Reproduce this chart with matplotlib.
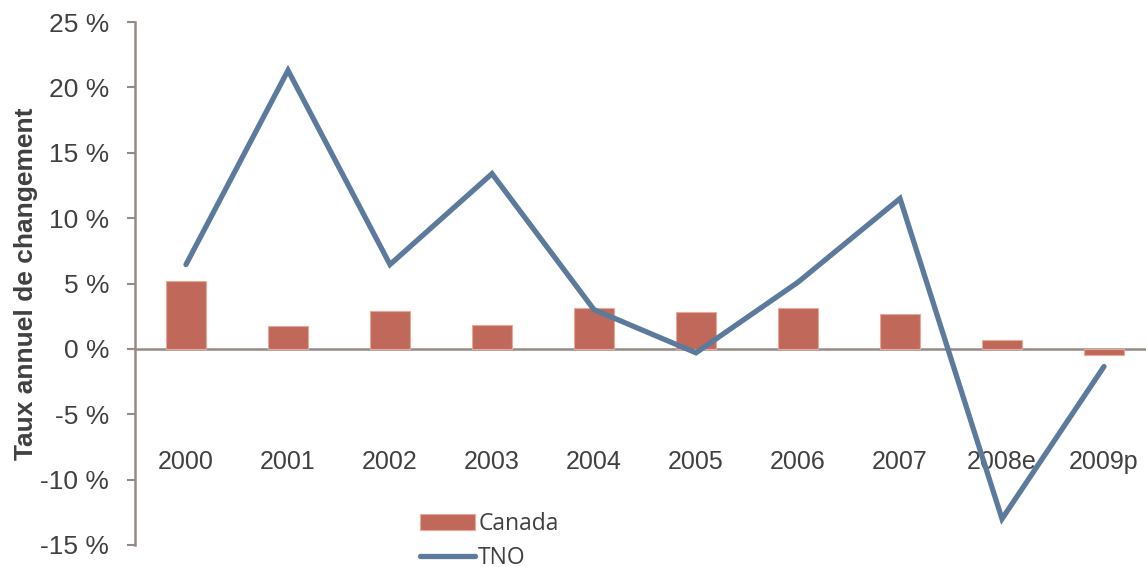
import matplotlib
matplotlib.use("Agg")
import matplotlib.pyplot as plt
import numpy as np

# Taux annuel de changement, en %
years = ["2000", "2001", "2002", "2003", "2004", "2005", "2006", "2007", "2008e", "2009p"]
canada = [5.2, 1.75, 2.9, 1.85, 3.1, 2.85, 3.1, 2.7, 0.7, -0.45]
tno = [6.45, 21.3, 6.45, 13.4, 3.0, -0.3, 5.1, 11.5, -13.0, -1.35]

bar_col = "#C0695A"
line_col = "#5B7A9C"
axis_col = "#968A86"
text_col = "#404040"

plt.rcParams['font.family'] = ['Liberation Sans', 'DejaVu Sans']

fig = plt.figure(figsize=(11.46, 5.67), dpi=100)
ax = fig.add_axes([135/1146, 22/567, 1020/1146, 523/567])

x = np.arange(len(years))
bars = ax.bar(x, canada, width=0.4, color=bar_col, edgecolor="#E8A898", linewidth=0.8, zorder=2)
line, = ax.plot(x, tno, color=line_col, lw=3.8, solid_capstyle='round', solid_joinstyle='miter', zorder=3)

ax.set_xlim(-0.5, 9.5)
ax.set_ylim(-15, 25)
ax.set_yticks(range(-15, 26, 5))
ax.set_yticklabels(["{} %".format(v) for v in range(-15, 26, 5)])

ax.set_xticks(x)
ax.set_xticklabels(years)
ax.spines['bottom'].set_position(('data', 0))
ax.tick_params(axis='x', length=0, pad=73, labelsize=18, colors=text_col)
ax.tick_params(axis='y', length=5.5, width=1.5, color=axis_col, labelsize=19, labelcolor=text_col, pad=13)

for s in ['top', 'right']:
    ax.spines[s].set_visible(False)
for s in ['left', 'bottom']:
    ax.spines[s].set_color(axis_col)
    ax.spines[s].set_linewidth(1.8)
    ax.spines[s].set_zorder(1)

ax.set_ylabel("Taux annuel de changement", fontsize=19, fontweight='bold', color=text_col)
ax.yaxis.set_label_coords(-0.095, 0.5)

leg = ax.legend([bars, line], ["Canada", "TNO"], loc='upper left',
                bbox_to_anchor=(409/1146, 1 - 501/567), bbox_transform=fig.transFigure,
                frameon=False, handlelength=2.4, handletextpad=0.12, labelspacing=0.42,
                borderpad=0, prop={'family': 'Open Sans', 'size': 16.5})
for t in leg.get_texts():
    t.set_color(text_col)

fig.savefig("out.png", dpi=100)
